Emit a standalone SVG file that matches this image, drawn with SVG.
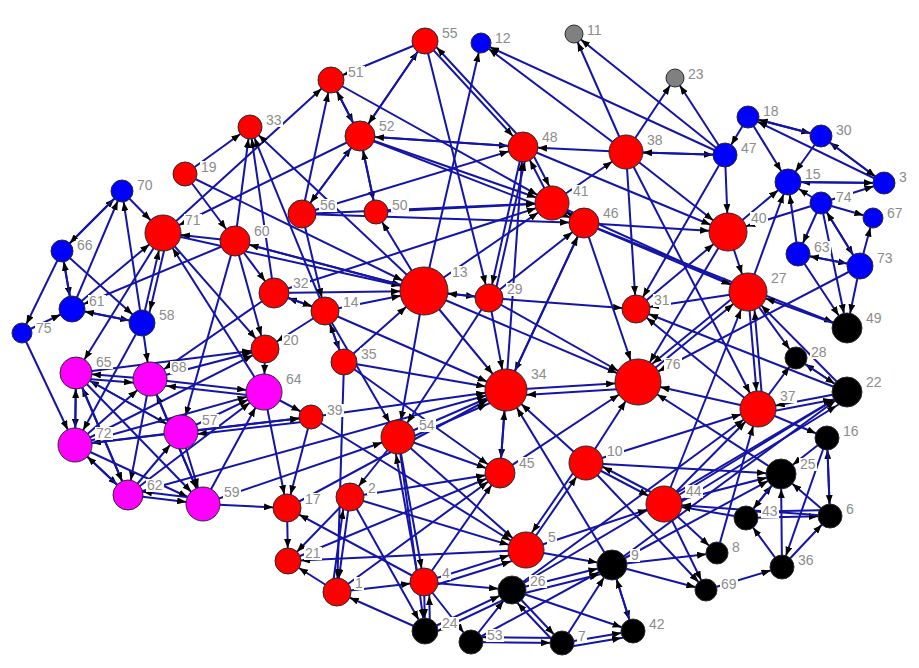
<svg xmlns="http://www.w3.org/2000/svg" width="919" height="668" viewBox="0 0 919 668">
<style>
.e{stroke:#1414a8;stroke-width:2;fill:none}
.n{stroke:#2a2a2a;stroke-width:1}
.R{fill:#ff0000}.B{fill:#0000ff}.M{fill:#ff00ff}.G{fill:#808080}.K{fill:#000000}
.lb{fill:#ffffff}
.lt{font-family:"Liberation Sans",Arial,sans-serif;font-size:14px;fill:#8c8c8c}
.ah{fill:#000000}
.t9{marker-end:url(#m9)}.t10{marker-end:url(#m10)}.t11{marker-end:url(#m11)}.t12{marker-end:url(#m12)}
.t13{marker-end:url(#m13)}.t14{marker-end:url(#m14)}.t15{marker-end:url(#m15)}.t16{marker-end:url(#m16)}
.t17{marker-end:url(#m17)}.t18{marker-end:url(#m18)}.t19{marker-end:url(#m19)}.t21{marker-end:url(#m21)}
.t23{marker-end:url(#m23)}.t24{marker-end:url(#m24)}
</style>
<defs>
<path id="ahp" class="ah" d="M0,0 L9,3.5 L0,7 z"/>
<marker id="m9" markerUnits="userSpaceOnUse" markerWidth="9" markerHeight="7" refX="18" refY="3.5" orient="auto"><use href="#ahp"/></marker>
<marker id="m10" markerUnits="userSpaceOnUse" markerWidth="9" markerHeight="7" refX="19" refY="3.5" orient="auto"><use href="#ahp"/></marker>
<marker id="m11" markerUnits="userSpaceOnUse" markerWidth="9" markerHeight="7" refX="20" refY="3.5" orient="auto"><use href="#ahp"/></marker>
<marker id="m12" markerUnits="userSpaceOnUse" markerWidth="9" markerHeight="7" refX="21" refY="3.5" orient="auto"><use href="#ahp"/></marker>
<marker id="m13" markerUnits="userSpaceOnUse" markerWidth="9" markerHeight="7" refX="22" refY="3.5" orient="auto"><use href="#ahp"/></marker>
<marker id="m14" markerUnits="userSpaceOnUse" markerWidth="9" markerHeight="7" refX="23" refY="3.5" orient="auto"><use href="#ahp"/></marker>
<marker id="m15" markerUnits="userSpaceOnUse" markerWidth="9" markerHeight="7" refX="24" refY="3.5" orient="auto"><use href="#ahp"/></marker>
<marker id="m16" markerUnits="userSpaceOnUse" markerWidth="9" markerHeight="7" refX="25" refY="3.5" orient="auto"><use href="#ahp"/></marker>
<marker id="m17" markerUnits="userSpaceOnUse" markerWidth="9" markerHeight="7" refX="26" refY="3.5" orient="auto"><use href="#ahp"/></marker>
<marker id="m18" markerUnits="userSpaceOnUse" markerWidth="9" markerHeight="7" refX="27" refY="3.5" orient="auto"><use href="#ahp"/></marker>
<marker id="m19" markerUnits="userSpaceOnUse" markerWidth="9" markerHeight="7" refX="28" refY="3.5" orient="auto"><use href="#ahp"/></marker>
<marker id="m21" markerUnits="userSpaceOnUse" markerWidth="9" markerHeight="7" refX="30" refY="3.5" orient="auto"><use href="#ahp"/></marker>
<marker id="m23" markerUnits="userSpaceOnUse" markerWidth="9" markerHeight="7" refX="32" refY="3.5" orient="auto"><use href="#ahp"/></marker>
<marker id="m24" markerUnits="userSpaceOnUse" markerWidth="9" markerHeight="7" refX="33" refY="3.5" orient="auto"><use href="#ahp"/></marker>
</defs>
<rect x="0" y="0" width="919" height="668" fill="#ffffff"/>
<g id="edges">
<line class="e t11" x1="62" y1="251" x2="122" y2="191"/>
<line class="e t11" x1="122" y1="191" x2="62" y2="251"/>
<line class="e t11" x1="72" y1="309" x2="122" y2="191"/>
<line class="e t11" x1="142" y1="323" x2="122" y2="191"/>
<line class="e t18" x1="122" y1="191" x2="163" y2="233"/>
<line class="e t10" x1="62" y1="251" x2="22" y2="333"/>
<line class="e t13" x1="62" y1="251" x2="72" y2="309"/>
<line class="e t11" x1="72" y1="309" x2="62" y2="251"/>
<line class="e t13" x1="72" y1="309" x2="142" y2="323"/>
<line class="e t13" x1="142" y1="323" x2="72" y2="309"/>
<line class="e t13" x1="22" y1="333" x2="72" y2="309"/>
<line class="e t13" x1="62" y1="251" x2="142" y2="323"/>
<line class="e t18" x1="72" y1="309" x2="163" y2="233"/>
<line class="e t18" x1="142" y1="323" x2="163" y2="233"/>
<line class="e t13" x1="168" y1="234" x2="147" y2="323"/>
<line class="e t13" x1="235" y1="241" x2="72" y2="309"/>
<line class="e t17" x1="22" y1="333" x2="75" y2="445"/>
<line class="e t16" x1="163" y1="233" x2="76" y2="373"/>
<line class="e t17" x1="142" y1="323" x2="75" y2="445"/>
<line class="e t17" x1="142" y1="323" x2="150" y2="379"/>
<line class="e t18" x1="235" y1="241" x2="163" y2="233"/>
<line class="e t13" x1="163" y1="233" x2="331" y2="80"/>
<line class="e t18" x1="360" y1="136" x2="163" y2="233"/>
<line class="e t12" x1="185" y1="174" x2="250" y2="127"/>
<line class="e t15" x1="185" y1="174" x2="235" y2="241"/>
<line class="e t24" x1="185" y1="174" x2="424" y2="291"/>
<line class="e t12" x1="235" y1="241" x2="250" y2="127"/>
<line class="e t12" x1="274" y1="293" x2="250" y2="127"/>
<line class="e t12" x1="325" y1="311" x2="250" y2="127"/>
<line class="e t12" x1="424" y1="291" x2="250" y2="127"/>
<line class="e t13" x1="425" y1="41" x2="331" y2="80"/>
<line class="e t13" x1="360" y1="136" x2="425" y2="41"/>
<line class="e t15" x1="425" y1="41" x2="360" y2="136"/>
<line class="e t15" x1="425" y1="41" x2="523" y2="147"/>
<line class="e t13" x1="526" y1="144" x2="428" y2="38"/>
<line class="e t14" x1="425" y1="41" x2="489" y2="298"/>
<line class="e t10" x1="424" y1="291" x2="481" y2="43"/>
<line class="e t10" x1="725" y1="155" x2="481" y2="43"/>
<line class="e t10" x1="626" y1="152" x2="481" y2="43"/>
<line class="e t9" x1="626" y1="152" x2="574" y2="34"/>
<line class="e t9" x1="725" y1="155" x2="574" y2="34"/>
<line class="e t9" x1="626" y1="152" x2="675" y2="78"/>
<line class="e t9" x1="725" y1="155" x2="675" y2="78"/>
<line class="e t12" x1="626" y1="152" x2="725" y2="155"/>
<line class="e t17" x1="725" y1="155" x2="626" y2="152"/>
<line class="e t15" x1="626" y1="152" x2="523" y2="147"/>
<line class="e t17" x1="552" y1="203" x2="626" y2="152"/>
<line class="e t14" x1="626" y1="152" x2="636" y2="309"/>
<line class="e t19" x1="626" y1="152" x2="728" y2="232"/>
<line class="e t18" x1="626" y1="152" x2="758" y2="409"/>
<line class="e t13" x1="302" y1="214" x2="331" y2="80"/>
<line class="e t15" x1="331" y1="80" x2="360" y2="136"/>
<line class="e t13" x1="360" y1="136" x2="331" y2="80"/>
<line class="e t17" x1="331" y1="80" x2="552" y2="203"/>
<line class="e t15" x1="360" y1="136" x2="523" y2="147"/>
<line class="e t15" x1="523" y1="147" x2="360" y2="136"/>
<line class="e t17" x1="360" y1="136" x2="552" y2="203"/>
<line class="e t15" x1="360" y1="136" x2="584" y2="223"/>
<line class="e t15" x1="302" y1="214" x2="360" y2="136"/>
<line class="e t14" x1="360" y1="136" x2="302" y2="214"/>
<line class="e t12" x1="360" y1="136" x2="376" y2="212"/>
<line class="e t15" x1="376" y1="212" x2="360" y2="136"/>
<line class="e t17" x1="376" y1="212" x2="552" y2="203"/>
<line class="e t12" x1="424" y1="291" x2="376" y2="212"/>
<line class="e t15" x1="302" y1="214" x2="523" y2="147"/>
<line class="e t17" x1="302" y1="214" x2="552" y2="203"/>
<line class="e t15" x1="302" y1="214" x2="584" y2="223"/>
<line class="e t24" x1="235" y1="241" x2="424" y2="291"/>
<line class="e t24" x1="163" y1="233" x2="424" y2="291"/>
<line class="e t24" x1="274" y1="293" x2="424" y2="291"/>
<line class="e t24" x1="325" y1="311" x2="424" y2="291"/>
<line class="e t24" x1="344" y1="362" x2="424" y2="291"/>
<line class="e t15" x1="424" y1="291" x2="235" y2="241"/>
<line class="e t15" x1="235" y1="241" x2="274" y2="293"/>
<line class="e t14" x1="235" y1="241" x2="265" y2="349"/>
<line class="e t17" x1="235" y1="241" x2="181" y2="432"/>
<line class="e t14" x1="163" y1="233" x2="265" y2="349"/>
<line class="e t18" x1="264" y1="392" x2="163" y2="233"/>
<line class="e t17" x1="424" y1="291" x2="398" y2="437"/>
<line class="e t21" x1="424" y1="291" x2="506" y2="390"/>
<line class="e t14" x1="424" y1="291" x2="489" y2="298"/>
<line class="e t24" x1="489" y1="298" x2="424" y2="291"/>
<line class="e t17" x1="424" y1="291" x2="552" y2="203"/>
<line class="e t23" x1="424" y1="291" x2="638" y2="382"/>
<line class="e t17" x1="274" y1="293" x2="552" y2="203"/>
<line class="e t15" x1="325" y1="311" x2="274" y2="293"/>
<line class="e t14" x1="274" y1="293" x2="325" y2="311"/>
<line class="e t13" x1="325" y1="311" x2="344" y2="362"/>
<line class="e t14" x1="344" y1="362" x2="325" y2="311"/>
<line class="e t21" x1="325" y1="311" x2="506" y2="390"/>
<line class="e t14" x1="325" y1="311" x2="265" y2="349"/>
<line class="e t17" x1="325" y1="311" x2="398" y2="437"/>
<line class="e t14" x1="302" y1="214" x2="325" y2="311"/>
<line class="e t21" x1="344" y1="362" x2="506" y2="390"/>
<line class="e t15" x1="344" y1="362" x2="500" y2="473"/>
<line class="e t14" x1="344" y1="362" x2="337" y2="592"/>
<line class="e t12" x1="264" y1="392" x2="311" y2="417"/>
<line class="e t12" x1="181" y1="432" x2="311" y2="417"/>
<line class="e t17" x1="311" y1="421" x2="181" y2="436"/>
<line class="e t14" x1="311" y1="417" x2="287" y2="508"/>
<line class="e t21" x1="311" y1="417" x2="506" y2="390"/>
<line class="e t18" x1="311" y1="417" x2="526" y2="550"/>
<line class="e t18" x1="265" y1="349" x2="264" y2="392"/>
<line class="e t14" x1="150" y1="379" x2="265" y2="349"/>
<line class="e t14" x1="76" y1="373" x2="265" y2="349"/>
<line class="e t14" x1="75" y1="445" x2="265" y2="349"/>
<line class="e t17" x1="274" y1="293" x2="150" y2="379"/>
<line class="e t16" x1="150" y1="379" x2="76" y2="373"/>
<line class="e t17" x1="76" y1="378" x2="150" y2="384"/>
<line class="e t18" x1="150" y1="379" x2="264" y2="392"/>
<line class="e t17" x1="264" y1="397" x2="150" y2="384"/>
<line class="e t17" x1="203" y1="504" x2="150" y2="379"/>
<line class="e t17" x1="75" y1="445" x2="150" y2="379"/>
<line class="e t15" x1="150" y1="379" x2="128" y2="495"/>
<line class="e t17" x1="150" y1="379" x2="203" y2="504"/>
<line class="e t17" x1="76" y1="373" x2="75" y2="445"/>
<line class="e t16" x1="75" y1="445" x2="76" y2="373"/>
<line class="e t16" x1="128" y1="495" x2="76" y2="373"/>
<line class="e t15" x1="76" y1="373" x2="128" y2="495"/>
<line class="e t16" x1="181" y1="432" x2="76" y2="373"/>
<line class="e t17" x1="76" y1="373" x2="181" y2="432"/>
<line class="e t17" x1="76" y1="373" x2="203" y2="504"/>
<line class="e t18" x1="75" y1="445" x2="264" y2="392"/>
<line class="e t18" x1="181" y1="432" x2="264" y2="392"/>
<line class="e t18" x1="203" y1="504" x2="264" y2="392"/>
<line class="e t18" x1="128" y1="495" x2="264" y2="392"/>
<line class="e t14" x1="264" y1="392" x2="287" y2="508"/>
<line class="e t17" x1="181" y1="432" x2="203" y2="504"/>
<line class="e t17" x1="128" y1="495" x2="181" y2="432"/>
<line class="e t17" x1="181" y1="432" x2="75" y2="445"/>
<line class="e t17" x1="75" y1="445" x2="203" y2="504"/>
<line class="e t15" x1="75" y1="445" x2="128" y2="495"/>
<line class="e t17" x1="128" y1="495" x2="75" y2="445"/>
<line class="e t12" x1="75" y1="445" x2="311" y2="417"/>
<line class="e t17" x1="128" y1="495" x2="203" y2="504"/>
<line class="e t15" x1="203" y1="499" x2="128" y2="490"/>
<line class="e t21" x1="128" y1="495" x2="506" y2="390"/>
<line class="e t14" x1="203" y1="504" x2="287" y2="508"/>
<line class="e t17" x1="203" y1="504" x2="398" y2="437"/>
<line class="e t13" x1="287" y1="508" x2="288" y2="561"/>
<line class="e t14" x1="424" y1="582" x2="287" y2="508"/>
<line class="e t21" x1="287" y1="508" x2="506" y2="390"/>
<line class="e t15" x1="288" y1="561" x2="500" y2="473"/>
<line class="e t13" x1="526" y1="550" x2="288" y2="561"/>
<line class="e t13" x1="337" y1="592" x2="288" y2="561"/>
<line class="e t13" x1="350" y1="497" x2="288" y2="561"/>
<line class="e t14" x1="350" y1="497" x2="337" y2="592"/>
<line class="e t14" x1="332" y1="591" x2="345" y2="496"/>
<line class="e t14" x1="425" y1="631" x2="337" y2="592"/>
<line class="e t14" x1="337" y1="592" x2="424" y2="582"/>
<line class="e t15" x1="337" y1="592" x2="500" y2="473"/>
<line class="e t14" x1="398" y1="437" x2="350" y2="497"/>
<line class="e t18" x1="350" y1="497" x2="526" y2="550"/>
<line class="e t15" x1="350" y1="497" x2="500" y2="473"/>
<line class="e t13" x1="350" y1="497" x2="425" y2="631"/>
<line class="e t15" x1="398" y1="437" x2="500" y2="473"/>
<line class="e t21" x1="398" y1="437" x2="506" y2="390"/>
<line class="e t21" x1="398" y1="443" x2="506" y2="396"/>
<line class="e t17" x1="489" y1="298" x2="398" y2="437"/>
<line class="e t14" x1="398" y1="437" x2="424" y2="582"/>
<line class="e t17" x1="419" y1="583" x2="393" y2="438"/>
<line class="e t13" x1="398" y1="437" x2="425" y2="631"/>
<line class="e t18" x1="398" y1="437" x2="526" y2="550"/>
<line class="e t15" x1="506" y1="390" x2="500" y2="473"/>
<line class="e t21" x1="500" y1="473" x2="506" y2="390"/>
<line class="e t15" x1="424" y1="582" x2="500" y2="473"/>
<line class="e t23" x1="500" y1="473" x2="638" y2="382"/>
<line class="e t21" x1="489" y1="298" x2="506" y2="390"/>
<line class="e t21" x1="584" y1="223" x2="506" y2="390"/>
<line class="e t15" x1="506" y1="390" x2="584" y2="223"/>
<line class="e t23" x1="506" y1="390" x2="638" y2="382"/>
<line class="e t21" x1="638" y1="388" x2="506" y2="396"/>
<line class="e t21" x1="586" y1="463" x2="506" y2="390"/>
<line class="e t21" x1="612" y1="565" x2="506" y2="390"/>
<line class="e t15" x1="506" y1="390" x2="523" y2="147"/>
<line class="e t14" x1="523" y1="147" x2="489" y2="298"/>
<line class="e t15" x1="494" y1="298" x2="528" y2="147"/>
<line class="e t15" x1="489" y1="298" x2="584" y2="223"/>
<line class="e t14" x1="489" y1="298" x2="636" y2="309"/>
<line class="e t23" x1="489" y1="298" x2="638" y2="382"/>
<line class="e t15" x1="552" y1="203" x2="523" y2="147"/>
<line class="e t17" x1="528" y1="145" x2="557" y2="201"/>
<line class="e t19" x1="523" y1="147" x2="728" y2="232"/>
<line class="e t15" x1="552" y1="203" x2="584" y2="223"/>
<line class="e t17" x1="584" y1="223" x2="552" y2="203"/>
<line class="e t19" x1="584" y1="223" x2="728" y2="232"/>
<line class="e t19" x1="584" y1="223" x2="748" y2="292"/>
<line class="e t19" x1="552" y1="203" x2="748" y2="292"/>
<line class="e t23" x1="584" y1="223" x2="638" y2="382"/>
<line class="e t15" x1="584" y1="223" x2="847" y2="328"/>
<line class="e t19" x1="725" y1="155" x2="728" y2="232"/>
<line class="e t13" x1="728" y1="232" x2="788" y2="182"/>
<line class="e t19" x1="821" y1="203" x2="728" y2="232"/>
<line class="e t19" x1="728" y1="232" x2="748" y2="292"/>
<line class="e t19" x1="636" y1="309" x2="728" y2="232"/>
<line class="e t23" x1="728" y1="232" x2="638" y2="382"/>
<line class="e t19" x1="847" y1="328" x2="748" y2="292"/>
<line class="e t13" x1="748" y1="292" x2="788" y2="182"/>
<line class="e t14" x1="748" y1="292" x2="636" y2="309"/>
<line class="e t18" x1="748" y1="292" x2="758" y2="409"/>
<line class="e t19" x1="763" y1="409" x2="753" y2="292"/>
<line class="e t11" x1="748" y1="292" x2="796" y2="358"/>
<line class="e t19" x1="847" y1="392" x2="748" y2="292"/>
<line class="e t19" x1="638" y1="382" x2="748" y2="292"/>
<line class="e t23" x1="745" y1="288" x2="635" y2="378"/>
<line class="e t19" x1="664" y1="504" x2="748" y2="292"/>
<line class="e t14" x1="847" y1="392" x2="636" y2="309"/>
<line class="e t14" x1="758" y1="409" x2="636" y2="309"/>
<line class="e t14" x1="725" y1="155" x2="636" y2="309"/>
<line class="e t23" x1="860" y1="266" x2="638" y2="382"/>
<line class="e t23" x1="758" y1="409" x2="638" y2="382"/>
<line class="e t23" x1="586" y1="463" x2="638" y2="382"/>
<line class="e t23" x1="781" y1="474" x2="638" y2="382"/>
<line class="e t18" x1="847" y1="392" x2="758" y2="409"/>
<line class="e t15" x1="758" y1="414" x2="847" y2="397"/>
<line class="e t12" x1="758" y1="409" x2="827" y2="438"/>
<line class="e t18" x1="664" y1="504" x2="758" y2="409"/>
<line class="e t18" x1="586" y1="463" x2="758" y2="409"/>
<line class="e t11" x1="758" y1="409" x2="796" y2="358"/>
<line class="e t18" x1="717" y1="553" x2="758" y2="409"/>
<line class="e t18" x1="512" y1="590" x2="758" y2="409"/>
<line class="e t11" x1="847" y1="392" x2="796" y2="358"/>
<line class="e t15" x1="796" y1="358" x2="847" y2="392"/>
<line class="e t15" x1="664" y1="504" x2="847" y2="392"/>
<line class="e t15" x1="668" y1="510" x2="849" y2="398"/>
<line class="e t15" x1="612" y1="565" x2="847" y2="392"/>
<line class="e t15" x1="512" y1="590" x2="847" y2="392"/>
<line class="e t15" x1="798" y1="254" x2="847" y2="328"/>
<line class="e t15" x1="860" y1="266" x2="847" y2="328"/>
<line class="e t15" x1="821" y1="203" x2="847" y2="328"/>
<line class="e t15" x1="827" y1="438" x2="781" y2="474"/>
<line class="e t12" x1="830" y1="516" x2="827" y2="438"/>
<line class="e t12" x1="827" y1="438" x2="830" y2="516"/>
<line class="e t12" x1="827" y1="438" x2="782" y2="567"/>
<line class="e t15" x1="664" y1="504" x2="781" y2="474"/>
<line class="e t15" x1="586" y1="463" x2="781" y2="474"/>
<line class="e t15" x1="746" y1="518" x2="781" y2="474"/>
<line class="e t12" x1="781" y1="474" x2="746" y2="518"/>
<line class="e t15" x1="782" y1="567" x2="781" y2="474"/>
<line class="e t15" x1="830" y1="516" x2="781" y2="474"/>
<line class="e t15" x1="612" y1="565" x2="781" y2="474"/>
<line class="e t18" x1="746" y1="518" x2="664" y2="504"/>
<line class="e t12" x1="746" y1="518" x2="830" y2="516"/>
<line class="e t12" x1="830" y1="510" x2="746" y2="512"/>
<line class="e t12" x1="782" y1="567" x2="746" y2="518"/>
<line class="e t12" x1="782" y1="567" x2="830" y2="516"/>
<line class="e t18" x1="830" y1="516" x2="664" y2="504"/>
<line class="e t12" x1="706" y1="590" x2="782" y2="567"/>
<line class="e t11" x1="664" y1="504" x2="717" y2="553"/>
<line class="e t11" x1="612" y1="565" x2="717" y2="553"/>
<line class="e t11" x1="664" y1="504" x2="706" y2="590"/>
<line class="e t11" x1="612" y1="565" x2="706" y2="590"/>
<line class="e t11" x1="586" y1="463" x2="706" y2="590"/>
<line class="e t18" x1="586" y1="463" x2="664" y2="504"/>
<line class="e t17" x1="666" y1="500" x2="588" y2="459"/>
<line class="e t18" x1="526" y1="550" x2="664" y2="504"/>
<line class="e t17" x1="526" y1="550" x2="586" y2="463"/>
<line class="e t18" x1="582" y1="460" x2="522" y2="547"/>
<line class="e t18" x1="424" y1="582" x2="526" y2="550"/>
<line class="e t18" x1="426" y1="588" x2="528" y2="556"/>
<line class="e t15" x1="526" y1="550" x2="612" y2="565"/>
<line class="e t12" x1="612" y1="565" x2="633" y2="631"/>
<line class="e t15" x1="633" y1="631" x2="612" y2="565"/>
<line class="e t15" x1="512" y1="590" x2="612" y2="565"/>
<line class="e t15" x1="513" y1="596" x2="613" y2="571"/>
<line class="e t15" x1="471" y1="642" x2="612" y2="565"/>
<line class="e t15" x1="562" y1="643" x2="612" y2="565"/>
<line class="e t14" x1="425" y1="631" x2="512" y2="590"/>
<line class="e t13" x1="514" y1="595" x2="427" y2="636"/>
<line class="e t14" x1="471" y1="642" x2="512" y2="590"/>
<line class="e t12" x1="512" y1="590" x2="562" y2="643"/>
<line class="e t14" x1="558" y1="646" x2="508" y2="593"/>
<line class="e t12" x1="512" y1="590" x2="633" y2="631"/>
<line class="e t14" x1="424" y1="582" x2="512" y2="590"/>
<line class="e t13" x1="424" y1="582" x2="425" y2="631"/>
<line class="e t14" x1="430" y1="631" x2="429" y2="582"/>
<line class="e t12" x1="424" y1="582" x2="471" y2="642"/>
<line class="e t12" x1="471" y1="642" x2="562" y2="643"/>
<line class="e t12" x1="562" y1="638" x2="471" y2="637"/>
<line class="e t12" x1="562" y1="643" x2="633" y2="631"/>
<line class="e t12" x1="562" y1="648" x2="633" y2="636"/>
<line class="e t11" x1="748" y1="117" x2="821" y2="136"/>
<line class="e t11" x1="821" y1="136" x2="748" y2="117"/>
<line class="e t11" x1="884" y1="183" x2="748" y2="117"/>
<line class="e t13" x1="748" y1="117" x2="788" y2="182"/>
<line class="e t13" x1="821" y1="136" x2="788" y2="182"/>
<line class="e t11" x1="884" y1="183" x2="821" y2="136"/>
<line class="e t11" x1="821" y1="136" x2="884" y2="183"/>
<line class="e t13" x1="884" y1="183" x2="788" y2="182"/>
<line class="e t11" x1="788" y1="182" x2="884" y2="183"/>
<line class="e t11" x1="821" y1="203" x2="884" y2="183"/>
<line class="e t13" x1="821" y1="203" x2="788" y2="182"/>
<line class="e t10" x1="821" y1="203" x2="873" y2="218"/>
<line class="e t12" x1="748" y1="117" x2="725" y2="155"/>
<line class="e t13" x1="798" y1="254" x2="788" y2="182"/>
<line class="e t13" x1="798" y1="254" x2="860" y2="266"/>
<line class="e t12" x1="860" y1="266" x2="798" y2="254"/>
<line class="e t12" x1="821" y1="203" x2="798" y2="254"/>
<line class="e t13" x1="821" y1="203" x2="860" y2="266"/>
<line class="e t11" x1="860" y1="266" x2="821" y2="203"/>
<line class="e t10" x1="860" y1="266" x2="873" y2="218"/>
</g>
<g id="n1"><circle class="n R" cx="337" cy="592" r="14"/><rect class="lb" x="354" y="577" width="10" height="13"/><text class="lt" x="355" y="588">1</text></g>
<g id="n2"><circle class="n R" cx="350" cy="497" r="14"/><rect class="lb" x="367" y="482" width="10" height="13"/><text class="lt" x="368" y="493">2</text></g>
<g id="n3"><circle class="n B" cx="884" cy="183" r="11"/><rect class="lb" x="898" y="171" width="10" height="13"/><text class="lt" x="899" y="182">3</text></g>
<g id="n4"><circle class="n R" cx="424" cy="582" r="14"/><rect class="lb" x="441" y="567" width="10" height="13"/><text class="lt" x="442" y="578">4</text></g>
<g id="n5"><circle class="n R" cx="526" cy="550" r="18"/><rect class="lb" x="547" y="531" width="10" height="13"/><text class="lt" x="548" y="542">5</text></g>
<g id="n6"><circle class="n K" cx="830" cy="516" r="12"/><rect class="lb" x="845" y="503" width="10" height="13"/><text class="lt" x="846" y="514">6</text></g>
<g id="n7"><circle class="n K" cx="562" cy="643" r="12"/><rect class="lb" x="577" y="630" width="10" height="13"/><text class="lt" x="578" y="641">7</text></g>
<g id="n8"><circle class="n K" cx="717" cy="553" r="11"/><rect class="lb" x="731" y="541" width="10" height="13"/><text class="lt" x="732" y="552">8</text></g>
<g id="n9"><circle class="n K" cx="612" cy="565" r="15"/><rect class="lb" x="630" y="549" width="10" height="13"/><text class="lt" x="631" y="560">9</text></g>
<g id="n10"><circle class="n R" cx="586" cy="463" r="17"/><rect class="lb" x="606" y="445" width="18" height="13"/><text class="lt" x="607" y="456">10</text></g>
<g id="n11"><circle class="n G" cx="574" cy="34" r="9"/><rect class="lb" x="586" y="24" width="18" height="13"/><text class="lt" x="587" y="35">11</text></g>
<g id="n12"><circle class="n B" cx="481" cy="43" r="10"/><rect class="lb" x="494" y="32" width="18" height="13"/><text class="lt" x="495" y="43">12</text></g>
<g id="n13"><circle class="n R" cx="424" cy="291" r="24"/><rect class="lb" x="451" y="266" width="18" height="13"/><text class="lt" x="452" y="277">13</text></g>
<g id="n14"><circle class="n R" cx="325" cy="311" r="14"/><rect class="lb" x="342" y="296" width="18" height="13"/><text class="lt" x="343" y="307">14</text></g>
<g id="n15"><circle class="n B" cx="788" cy="182" r="13"/><rect class="lb" x="804" y="168" width="18" height="13"/><text class="lt" x="805" y="179">15</text></g>
<g id="n16"><circle class="n K" cx="827" cy="438" r="12"/><rect class="lb" x="842" y="425" width="18" height="13"/><text class="lt" x="843" y="436">16</text></g>
<g id="n17"><circle class="n R" cx="287" cy="508" r="14"/><rect class="lb" x="304" y="493" width="18" height="13"/><text class="lt" x="305" y="504">17</text></g>
<g id="n18"><circle class="n B" cx="748" cy="117" r="11"/><rect class="lb" x="762" y="105" width="18" height="13"/><text class="lt" x="763" y="116">18</text></g>
<g id="n19"><circle class="n R" cx="185" cy="174" r="12"/><rect class="lb" x="200" y="161" width="18" height="13"/><text class="lt" x="201" y="172">19</text></g>
<g id="n20"><circle class="n R" cx="265" cy="349" r="14"/><rect class="lb" x="282" y="334" width="18" height="13"/><text class="lt" x="283" y="345">20</text></g>
<g id="n21"><circle class="n R" cx="288" cy="561" r="13"/><rect class="lb" x="304" y="547" width="18" height="13"/><text class="lt" x="305" y="558">21</text></g>
<g id="n22"><circle class="n K" cx="847" cy="392" r="15"/><rect class="lb" x="865" y="376" width="18" height="13"/><text class="lt" x="866" y="387">22</text></g>
<g id="n23"><circle class="n G" cx="675" cy="78" r="9"/><rect class="lb" x="687" y="68" width="18" height="13"/><text class="lt" x="688" y="79">23</text></g>
<g id="n24"><circle class="n K" cx="425" cy="631" r="13"/><rect class="lb" x="441" y="617" width="18" height="13"/><text class="lt" x="442" y="628">24</text></g>
<g id="n25"><circle class="n K" cx="781" cy="474" r="15"/><rect class="lb" x="799" y="458" width="18" height="13"/><text class="lt" x="800" y="469">25</text></g>
<g id="n26"><circle class="n K" cx="512" cy="590" r="14"/><rect class="lb" x="529" y="575" width="18" height="13"/><text class="lt" x="530" y="586">26</text></g>
<g id="n27"><circle class="n R" cx="748" cy="292" r="19"/><rect class="lb" x="770" y="272" width="18" height="13"/><text class="lt" x="771" y="283">27</text></g>
<g id="n28"><circle class="n K" cx="796" cy="358" r="11"/><rect class="lb" x="810" y="346" width="18" height="13"/><text class="lt" x="811" y="357">28</text></g>
<g id="n29"><circle class="n R" cx="489" cy="298" r="14"/><rect class="lb" x="506" y="283" width="18" height="13"/><text class="lt" x="507" y="294">29</text></g>
<g id="n30"><circle class="n B" cx="821" cy="136" r="11"/><rect class="lb" x="835" y="124" width="18" height="13"/><text class="lt" x="836" y="135">30</text></g>
<g id="n31"><circle class="n R" cx="636" cy="309" r="14"/><rect class="lb" x="653" y="294" width="18" height="13"/><text class="lt" x="654" y="305">31</text></g>
<g id="n32"><circle class="n R" cx="274" cy="293" r="15"/><rect class="lb" x="292" y="277" width="18" height="13"/><text class="lt" x="293" y="288">32</text></g>
<g id="n33"><circle class="n R" cx="250" cy="127" r="12"/><rect class="lb" x="265" y="114" width="18" height="13"/><text class="lt" x="266" y="125">33</text></g>
<g id="n34"><circle class="n R" cx="506" cy="390" r="21"/><rect class="lb" x="530" y="368" width="18" height="13"/><text class="lt" x="531" y="379">34</text></g>
<g id="n35"><circle class="n R" cx="344" cy="362" r="13"/><rect class="lb" x="360" y="348" width="18" height="13"/><text class="lt" x="361" y="359">35</text></g>
<g id="n36"><circle class="n K" cx="782" cy="567" r="12"/><rect class="lb" x="797" y="554" width="18" height="13"/><text class="lt" x="798" y="565">36</text></g>
<g id="n37"><circle class="n R" cx="758" cy="409" r="18"/><rect class="lb" x="779" y="390" width="18" height="13"/><text class="lt" x="780" y="401">37</text></g>
<g id="n38"><circle class="n R" cx="626" cy="152" r="17"/><rect class="lb" x="646" y="134" width="18" height="13"/><text class="lt" x="647" y="145">38</text></g>
<g id="n39"><circle class="n R" cx="311" cy="417" r="12"/><rect class="lb" x="326" y="404" width="18" height="13"/><text class="lt" x="327" y="415">39</text></g>
<g id="n40"><circle class="n R" cx="728" cy="232" r="19"/><rect class="lb" x="750" y="212" width="18" height="13"/><text class="lt" x="751" y="223">40</text></g>
<g id="n41"><circle class="n R" cx="552" cy="203" r="17"/><rect class="lb" x="572" y="185" width="18" height="13"/><text class="lt" x="573" y="196">41</text></g>
<g id="n42"><circle class="n K" cx="633" cy="631" r="12"/><rect class="lb" x="648" y="618" width="18" height="13"/><text class="lt" x="649" y="629">42</text></g>
<g id="n43"><circle class="n K" cx="746" cy="518" r="12"/><rect class="lb" x="761" y="505" width="18" height="13"/><text class="lt" x="762" y="516">43</text></g>
<g id="n44"><circle class="n R" cx="664" cy="504" r="18"/><rect class="lb" x="685" y="485" width="18" height="13"/><text class="lt" x="686" y="496">44</text></g>
<g id="n45"><circle class="n R" cx="500" cy="473" r="15"/><rect class="lb" x="518" y="457" width="18" height="13"/><text class="lt" x="519" y="468">45</text></g>
<g id="n46"><circle class="n R" cx="584" cy="223" r="15"/><rect class="lb" x="602" y="207" width="18" height="13"/><text class="lt" x="603" y="218">46</text></g>
<g id="n47"><circle class="n B" cx="725" cy="155" r="12"/><rect class="lb" x="740" y="142" width="18" height="13"/><text class="lt" x="741" y="153">47</text></g>
<g id="n48"><circle class="n R" cx="523" cy="147" r="15"/><rect class="lb" x="541" y="131" width="18" height="13"/><text class="lt" x="542" y="142">48</text></g>
<g id="n49"><circle class="n K" cx="847" cy="328" r="15"/><rect class="lb" x="865" y="312" width="18" height="13"/><text class="lt" x="866" y="323">49</text></g>
<g id="n50"><circle class="n R" cx="376" cy="212" r="12"/><rect class="lb" x="391" y="199" width="18" height="13"/><text class="lt" x="392" y="210">50</text></g>
<g id="n51"><circle class="n R" cx="331" cy="80" r="13"/><rect class="lb" x="347" y="66" width="18" height="13"/><text class="lt" x="348" y="77">51</text></g>
<g id="n52"><circle class="n R" cx="360" cy="136" r="15"/><rect class="lb" x="378" y="120" width="18" height="13"/><text class="lt" x="379" y="131">52</text></g>
<g id="n53"><circle class="n K" cx="471" cy="642" r="12"/><rect class="lb" x="486" y="629" width="18" height="13"/><text class="lt" x="487" y="640">53</text></g>
<g id="n54"><circle class="n R" cx="398" cy="437" r="17"/><rect class="lb" x="418" y="419" width="18" height="13"/><text class="lt" x="419" y="430">54</text></g>
<g id="n55"><circle class="n R" cx="425" cy="41" r="13"/><rect class="lb" x="441" y="27" width="18" height="13"/><text class="lt" x="442" y="38">55</text></g>
<g id="n56"><circle class="n R" cx="302" cy="214" r="14"/><rect class="lb" x="319" y="199" width="18" height="13"/><text class="lt" x="320" y="210">56</text></g>
<g id="n57"><circle class="n M" cx="181" cy="432" r="17"/><rect class="lb" x="201" y="414" width="18" height="13"/><text class="lt" x="202" y="425">57</text></g>
<g id="n58"><circle class="n B" cx="142" cy="323" r="13"/><rect class="lb" x="158" y="309" width="18" height="13"/><text class="lt" x="159" y="320">58</text></g>
<g id="n59"><circle class="n M" cx="203" cy="504" r="17"/><rect class="lb" x="223" y="486" width="18" height="13"/><text class="lt" x="224" y="497">59</text></g>
<g id="n60"><circle class="n R" cx="235" cy="241" r="15"/><rect class="lb" x="253" y="225" width="18" height="13"/><text class="lt" x="254" y="236">60</text></g>
<g id="n61"><circle class="n B" cx="72" cy="309" r="13"/><rect class="lb" x="88" y="295" width="18" height="13"/><text class="lt" x="89" y="306">61</text></g>
<g id="n62"><circle class="n M" cx="128" cy="495" r="15"/><rect class="lb" x="146" y="479" width="18" height="13"/><text class="lt" x="147" y="490">62</text></g>
<g id="n63"><circle class="n B" cx="798" cy="254" r="12"/><rect class="lb" x="813" y="241" width="18" height="13"/><text class="lt" x="814" y="252">63</text></g>
<g id="n64"><circle class="n M" cx="264" cy="392" r="18"/><rect class="lb" x="285" y="373" width="18" height="13"/><text class="lt" x="286" y="384">64</text></g>
<g id="n65"><circle class="n M" cx="76" cy="373" r="16"/><rect class="lb" x="95" y="356" width="18" height="13"/><text class="lt" x="96" y="367">65</text></g>
<g id="n66"><circle class="n B" cx="62" cy="251" r="11"/><rect class="lb" x="76" y="239" width="18" height="13"/><text class="lt" x="77" y="250">66</text></g>
<g id="n67"><circle class="n B" cx="873" cy="218" r="10"/><rect class="lb" x="886" y="207" width="18" height="13"/><text class="lt" x="887" y="218">67</text></g>
<g id="n68"><circle class="n M" cx="150" cy="379" r="17"/><rect class="lb" x="170" y="361" width="18" height="13"/><text class="lt" x="171" y="372">68</text></g>
<g id="n69"><circle class="n K" cx="706" cy="590" r="11"/><rect class="lb" x="720" y="578" width="18" height="13"/><text class="lt" x="721" y="589">69</text></g>
<g id="n70"><circle class="n B" cx="122" cy="191" r="11"/><rect class="lb" x="136" y="179" width="18" height="13"/><text class="lt" x="137" y="190">70</text></g>
<g id="n71"><circle class="n R" cx="163" cy="233" r="18"/><rect class="lb" x="184" y="214" width="18" height="13"/><text class="lt" x="185" y="225">71</text></g>
<g id="n72"><circle class="n M" cx="75" cy="445" r="17"/><rect class="lb" x="95" y="427" width="18" height="13"/><text class="lt" x="96" y="438">72</text></g>
<g id="n73"><circle class="n B" cx="860" cy="266" r="13"/><rect class="lb" x="876" y="252" width="18" height="13"/><text class="lt" x="877" y="263">73</text></g>
<g id="n74"><circle class="n B" cx="821" cy="203" r="11"/><rect class="lb" x="835" y="191" width="18" height="13"/><text class="lt" x="836" y="202">74</text></g>
<g id="n75"><circle class="n B" cx="22" cy="333" r="10"/><rect class="lb" x="35" y="322" width="18" height="13"/><text class="lt" x="36" y="333">75</text></g>
<g id="n76"><circle class="n R" cx="638" cy="382" r="23"/><rect class="lb" x="664" y="358" width="18" height="13"/><text class="lt" x="665" y="369">76</text></g>
</svg>
